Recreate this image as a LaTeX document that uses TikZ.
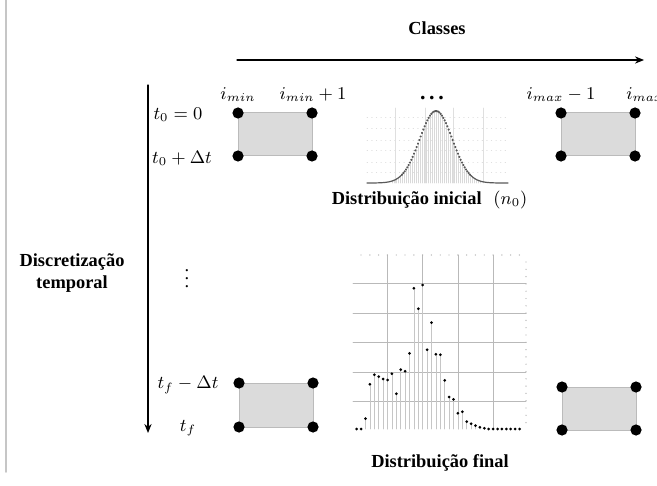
\documentclass[tikz,border=0pt]{standalone}
\usepackage{fontspec}
\setmainfont{Liberation Serif}
\usetikzlibrary{arrows.meta,positioning}
\definecolor{cellfill}{HTML}{DBDBDB}
\definecolor{celledge}{HTML}{BBBBBB}
\def\GaussMu{436}
\def\GaussPeak{72}
\def\GaussBase{183}
\def\GaussTwoSig{537.9}
\def\FinalBase{429}
\def\FinalHeights{0,0,10.3,44.7,54.3,52.3,50,49,55.3,35.3,59.3,57.7,75.7,140.7,120.3,144,79.3,106.3,74.7,74.3,48.7,32,29.7,15.7,17.3,7.3,5.3,3.3,1.7,0.7,0,0,0,0,0,0,0,0}

\begin{document}
\begin{tikzpicture}[
  x=0.5pt, y=-0.5pt, >=Stealth, line cap=round, line join=round,
  every node/.style={font=\fontsize{9.2}{11}\selectfont, inner sep=1pt},
  lab/.style={font=\fontsize{9.2}{11}\selectfont\bfseries, align=center},
  axis/.style={black, line width=0.6pt, -{Stealth[length=4.5pt,width=3.6pt]}},
  cell/.style={fill=cellfill, draw=celledge, line width=0.5pt},
  corner/.style={circle, fill=black, minimum size=5.6pt, inner sep=0pt},
  faint/.style={gray!25, line width=0.3pt},
  gridline/.style={gray!55, line width=0.35pt},
  stem/.style={gray!45, line width=0.3pt}
]
\useasboundingbox (0,0) rectangle (657,486);

% --- Frame line and the two axes ---------------------------------------
\draw[gray!45, line width=0.8pt] (6,0) -- (6,472);
\coordinate (clsStart) at (237,60);
\coordinate (clsEnd) at (644,60);
\draw[axis] (clsStart) -- (clsEnd);
\node[lab] (classes) at (437,28) {Classes};
\coordinate (timeStart) at (148,85);
\coordinate (timeEnd) at (148,433);
\draw[axis] (timeStart) -- (timeEnd);
\node[lab] (discr) at (72,273) {Discretização\\temporal};

% --- Time labels --------------------------------------------------------
\node (t0) at (178,115) {$t_0=0$};
\node (t1) at (182,158) {$t_0+\Delta t$};
\node (vd) at (187,273) {$\vdots$};
\node (tf1) at (188,385) {$t_f-\Delta t$};
\node (tf) at (188,428) {$t_f$};

% --- Class labels -------------------------------------------------------
\node (imin) at (238,95) {$i_{min}$};
\node (imin1) at (313,95) {$i_{min}+1$};
\node[anchor=base, font=\fontsize{11}{12}\selectfont\bfseries] (dots) at (432,100) {.\,.\,.};
\node (imax1) at (561,95) {$i_{max}-1$};
\node[anchor=west] (imax) at (624,95) {$i_{max}$};

% --- Cells with their corner points ------------------------------------
\foreach \nm/\xa/\ya/\xb/\yb in {tl/238/113/312/156, tr/561/113/635/156,
                                 bl/239/383/313/427, br/562/387/636/430}{
  \draw[cell] (\xa,\ya) rectangle (\xb,\yb);
  \node[corner] (\nm-nw) at (\xa,\ya) {};
  \node[corner] (\nm-ne) at (\xb,\ya) {};
  \node[corner] (\nm-sw) at (\xa,\yb) {};
  \node[corner] (\nm-se) at (\xb,\yb) {};
}

% --- Initial distribution (n0) -----------------------------------------
\foreach \gy in {117,128,140,150,162,172}
  \draw[faint, dotted] (367,\gy) -- (508,\gy);
\foreach \gx in {395,425,453,483}
  \draw[faint] (\gx,108) -- (\gx,\GaussBase);
\foreach \sx in {392,394,...,480}
  \draw[stem, gray!30] (\sx,\GaussBase) --
    (\sx,{\GaussBase-\GaussPeak*exp(-((\sx-\GaussMu)^2)/\GaussTwoSig)});
\draw[gray!70!black, line width=0.6pt]
  plot[domain=367:402, samples=40]
    (\x,{\GaussBase-\GaussPeak*exp(-((\x-\GaussMu)^2)/\GaussTwoSig)});
\draw[gray!70!black, line width=0.6pt]
  plot[domain=470:508, samples=40]
    (\x,{\GaussBase-\GaussPeak*exp(-((\x-\GaussMu)^2)/\GaussTwoSig)});
\fill[gray!70!black]
  plot[only marks, mark=*, mark size=0.35pt, domain=402:470, samples=52]
    (\x,{\GaussBase-\GaussPeak*exp(-((\x-\GaussMu)^2)/\GaussTwoSig)});
\node[lab, anchor=east] (initLabel) at (484,200) {Distribuição inicial};
\node[anchor=west] (initN) at (491,200) {$(n_0)$};

% --- Final distribution ---------------------------------------------------
\foreach \gy in {283,313,342,372,401}
  \draw[gridline] (353,\gy) -- (526,\gy);
\foreach \gx in {387,422,458,493}
  \draw[gridline] (\gx,255) -- (\gx,\FinalBase);
\foreach \tx in {361,369.8,...,520}
  \fill[gray!60] (\tx,255) circle (0.35pt);
\foreach \ty in {262,269.3,...,425}
  \fill[gray!60] (526,\ty) circle (0.35pt);
\foreach \h [count=\i from 0] in \FinalHeights {
  \draw[stem] (356.7+4.4*\i,\FinalBase) -- (356.7+4.4*\i,\FinalBase-\h);
  \fill (356.7+4.4*\i,\FinalBase-\h) circle (0.75pt);
}
\node[lab] (finalLabel) at (440,463) {Distribuição final};

\end{tikzpicture}
\end{document}
